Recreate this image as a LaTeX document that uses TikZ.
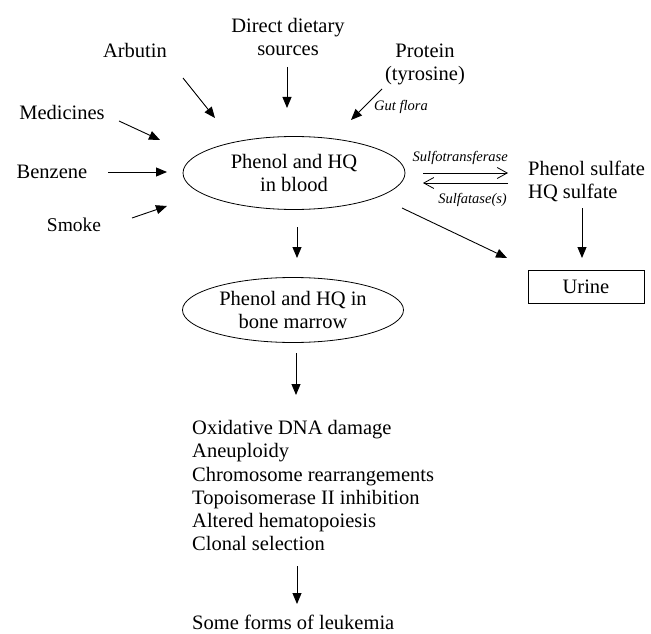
\documentclass[tikz,border=0pt]{standalone}
\usepackage{fontspec}
\setmainfont{Liberation Serif}
\usetikzlibrary{arrows.meta,shapes.geometric}
\begin{document}
\begin{tikzpicture}[x=1pt,y=-1pt,
  txt/.style={font=\fontsize{20.5}{23}\selectfont, inner sep=0pt, align=center},
  lbl/.style={font=\fontsize{14.5}{16}\selectfont\itshape, inner sep=0pt},
  pool/.style={ellipse, draw, line width=0.8pt, inner sep=0pt, align=center,
    font=\fontsize{20.5}{23}\selectfont},
  arr/.style={line width=0.9pt, -{Triangle[length=11pt,width=9pt]}},
  eqarr/.style={line width=0.8pt, -{Straight Barb[length=10pt,width=11pt]}},
]
\useasboundingbox (0,0) rectangle (651,634);

% nodes
\node[txt] (diet) at (288,37) {Direct dietary\\sources};
\node[txt] (arb) at (135,50) {Arbutin};
\node[txt] (prot) at (425,64) {Protein\\(tyrosine)};
\node[lbl] (gut) at (401,107) {Gut flora};
\node[txt] (med) at (62,112) {Medicines};
\node[txt] (ben) at (52,172) {Benzene};
\node[txt, font=\fontsize{19.5}{22}\selectfont] (smoke) at (74,225) {Smoke};

\node[pool, minimum width=222pt, minimum height=73pt] (blood) at (294,173) {Phenol and HQ\\in blood};
\node[pool, minimum width=221pt, minimum height=65pt] (marrow) at (293,310) {Phenol and HQ in\\bone marrow};

\node[txt, align=left, anchor=west] (sulf) at (528,181) {Phenol sulfate\\HQ sulfate};
\node[lbl, anchor=east] (sft) at (508,158) {Sulfotransferase};
\node[lbl, anchor=east] (sfa) at (507,200) {Sulfatase(s)};

\node[draw, line width=0.8pt, minimum width=116pt, minimum height=33pt, inner sep=0pt,
  font=\fontsize{20.5}{23}\selectfont] (urine) at (586,286.5) {Urine};

\node[txt, align=left, anchor=north west, font=\fontsize{20.5}{23.3}\selectfont] (eff) at (192,420)
  {Oxidative DNA damage\\Aneuploidy\\Chromosome rearrangements\\Topoisomerase II inhibition\\Altered hematopoiesis\\Clonal selection};
\node[txt, anchor=west] (leuk) at (192,622) {Some forms of leukemia};

% arrow end coordinates
\coordinate (dietA) at (287,67);   \coordinate (dietB) at (287,108);
\coordinate (arbA) at (183,78);    \coordinate (arbB) at (215,118);
\coordinate (protA) at (382,89);   \coordinate (protB) at (351,120);
\coordinate (medA) at (119,121);   \coordinate (medB) at (160,140);
\coordinate (benA) at (108,172);   \coordinate (benB) at (167,172);
\coordinate (smkA) at (132,218);   \coordinate (smkB) at (167,206);
\coordinate (bmA) at (297,227);    \coordinate (bmB) at (297,258);
\coordinate (meA) at (296,353);    \coordinate (meB) at (296,395);
\coordinate (elA) at (297,566);    \coordinate (elB) at (297,604);
\coordinate (buA) at (402,208);    \coordinate (buB) at (507,258);
\coordinate (suA) at (582,208);    \coordinate (suB) at (582,258);
\coordinate (fwA) at (423,173);    \coordinate (fwB) at (508,173);
\coordinate (rvA) at (508,183);    \coordinate (rvB) at (423,183);

\draw[arr] (dietA) -- (dietB);
\draw[arr] (arbA) -- (arbB);
\draw[arr] (protA) -- (protB);
\draw[arr] (medA) -- (medB);
\draw[arr] (benA) -- (benB);
\draw[arr] (smkA) -- (smkB);
\draw[arr] (bmA) -- (bmB);
\draw[arr] (meA) -- (meB);
\draw[arr] (elA) -- (elB);
\draw[arr] (buA) -- (buB);
\draw[arr] (suA) -- (suB);
\draw[eqarr] (fwA) -- (fwB);
\draw[eqarr] (rvA) -- (rvB);
\end{tikzpicture}
\end{document}
